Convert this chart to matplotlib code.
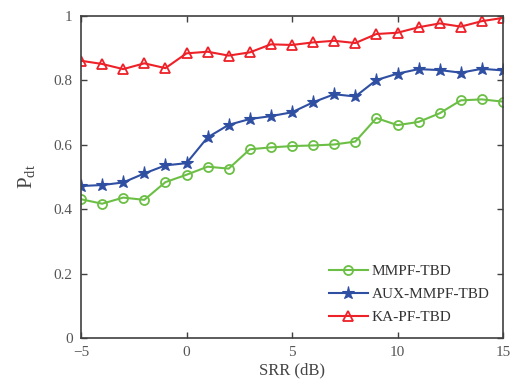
import matplotlib.pyplot as plt
import numpy as np

plt.rcParams['font.family'] = 'Liberation Serif'
plt.rcParams['mathtext.fontset'] = 'custom'
plt.rcParams['mathtext.rm'] = 'Liberation Serif'
plt.rcParams['mathtext.it'] = 'Liberation Serif:italic'

srr = np.arange(-5, 16)

mmpf = [0.431, 0.417, 0.436, 0.429, 0.484, 0.507, 0.532, 0.526, 0.586, 0.592, 0.596,
        0.598, 0.601, 0.610, 0.683, 0.661, 0.671, 0.698, 0.738, 0.741, 0.734]
aux_mmpf = [0.472, 0.475, 0.483, 0.511, 0.536, 0.543, 0.623, 0.662, 0.680, 0.689, 0.701,
            0.732, 0.757, 0.750, 0.801, 0.821, 0.835, 0.832, 0.824, 0.836, 0.831]
ka_pf = [0.861, 0.851, 0.835, 0.853, 0.838, 0.884, 0.889, 0.877, 0.887, 0.912, 0.910,
         0.918, 0.923, 0.916, 0.944, 0.948, 0.965, 0.977, 0.967, 0.984, 0.994]

names = ['MMPF-TBD', 'AUX-MMPF-TBD', 'KA-PF-TBD']
xticks = [-5, 0, 5, 10, 15]
yticks = [0, 0.2, 0.4, 0.6, 0.8, 1]

fig = plt.figure(figsize=(5.14, 3.89), dpi=100)
ax = fig.add_axes([0.1576, 0.1311, 0.821, 0.8278])

ax.plot(srr, mmpf, color='#6cbf45', lw=1.5, marker='o', ms=6.5,
        mfc='none', mew=1.3, label=names[0])
ax.plot(srr, aux_mmpf, color='#2f4fa3', lw=1.5, marker='*', ms=9.5,
        mfc='#2f4fa3', mew=0.8, label=names[1])
ax.plot(srr, ka_pf, color='#ee2028', lw=1.5, marker='^', ms=7,
        mfc='none', mew=1.3, label=names[2])

ax.set_xlim(-5, 15)
ax.set_ylim(0, 1)
ax.set_xticks(xticks)
ax.set_yticks(yticks)
ax.set_yticklabels(['0', '0.2', '0.4', '0.6', '0.8', '1'])

ax.tick_params(direction='in', top=True, right=True, length=4, width=1,
               colors='#404040', labelcolor='#555555', labelsize=11, pad=6)
for s in ax.spines.values():
    s.set_color('#404040')
    s.set_linewidth(1.2)

ax.set_xlabel('SRR (dB)', fontsize=12, color='#444444', labelpad=2)
ax.set_ylabel(r'P$_{\rm dt}$', fontsize=15, color='#444444', labelpad=12)

ax.legend(loc='lower right', frameon=False, fontsize=11, handlelength=2.6,
          handletextpad=0.2, labelspacing=0.62, borderaxespad=0.5,
          labelcolor='#333333')

fig.savefig('out.png', dpi=100)
